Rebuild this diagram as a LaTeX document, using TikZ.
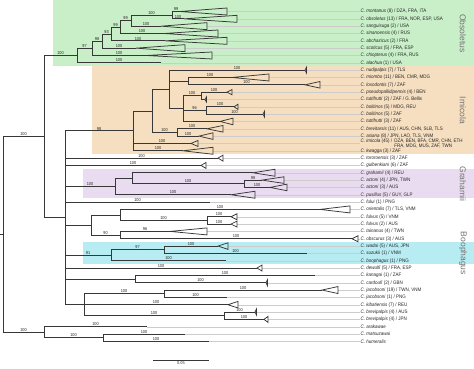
\documentclass[tikz,border=0pt]{standalone}
\usepackage{fontspec}
\usepackage{tikz}
\usetikzlibrary{positioning}
\newfontfamily\tipfont[FakeStretch=0.9]{Liberation Sans}
\newfontfamily\cladefont{Liberation Sans}
\definecolor{obsgreen}{RGB}{200,239,200}
\definecolor{imitan}{RGB}{246,223,192}
\definecolor{grapurple}{RGB}{234,220,240}
\definecolor{boocyan}{RGB}{184,236,243}
\definecolor{brcol}{RGB}{55,55,55}
\newcommand{\tipwedge}[3]{\draw[br] (#1) -- ([yshift=#3]#2) -- ([yshift=-#3]#2) -- cycle;}

\begin{document}
\begin{tikzpicture}[
 x=1pt, y=-7.33pt,
 br/.style={draw=brcol, line width=0.75pt},
 guide/.style={draw=black!20, line width=0.35pt},
 band/.style={fill=#1},
 tip/.style={anchor=west, inner sep=0.5pt, text=black!85,
   font=\tipfont\fontsize{5}{6}\selectfont},
 bs/.style={anchor=south, inner sep=0.4pt, text=black!85,
   font=\tipfont\fontsize{4.3}{5}\selectfont},
 clade/.style={rotate=-90, text=black!55,
   font=\cladefont\fontsize{8.5}{10}\selectfont}
]
\useasboundingbox (0,-0.57) rectangle (474,49.77);

% Clade bands
\path[band=obsgreen] (53,-0.57) rectangle (474,8.5);
\path[band=imitan] (92,8.5) rectangle (474,20.5);
\path[band=grapurple] (83,22.5) rectangle (474,26.5);
\path[band=boocyan] (83,32.5) rectangle (474,35.5);

\node[clade] (cobs) at (463,3.97) {Obsoletus};
\node[clade] (cimi) at (463,14.5) {Imicola};
\node[clade] (cgra) at (463,24.5) {Grahamii};
\node[clade] (cboo) at (463,34) {Boophagus};

% Internal nodes
\coordinate (base) at (0,31.41);
\coordinate (root) at (3,31.41);
\coordinate (ing) at (44,18.07);
\coordinate (out) at (44,44.75);
\coordinate (out2) at (103,45.5);
\coordinate (obs0) at (77,7.01);
\coordinate (obs1) at (92,6.02);
\coordinate (obs2) at (102,5.03);
\coordinate (obs3) at (111,4.06);
\coordinate (obs4) at (120,3.13);
\coordinate (obs5) at (131,2.25);
\coordinate (obs6) at (172,1.5);
\coordinate (big) at (65,29.14);
\coordinate (imi0) at (133,17.28);
\coordinate (imi1) at (152,14.56);
\coordinate (imi2) at (169,11.63);
\coordinate (imi3) at (188,10.5);
\coordinate (imi4) at (183,14.25);
\coordinate (imi5) at (201,12.5);
\coordinate (imi6) at (206,14.5);
\coordinate (imi7) at (177,17.5);
\coordinate (gra0) at (115,24.88);
\coordinate (gra1) at (132,23.75);
\coordinate (gra2) at (244,24.5);
\coordinate (ful0) at (91,30.13);
\coordinate (ful1) at (120,28.75);
\coordinate (ful2) at (207,29.5);
\coordinate (ful3) at (120,31.5);
\coordinate (boo0) at (111,34.25);
\coordinate (boo1) at (164,33.5);
\coordinate (kan0) at (135,37.5);
\coordinate (jac0) at (84,41);
\coordinate (jac1) at (164,39.5);
\coordinate (jac2) at (224,42.5);

% Branch ends: apex (a) and base (b) of collapsed clades
\coordinate (a1) at (180,1);  \coordinate (b1) at (227,1);
\coordinate (a2) at (184,2);  \coordinate (b2) at (237,2);
\coordinate (a3) at (161,3);  \coordinate (b3) at (207,3);
\coordinate (a4) at (164,4);  \coordinate (b4) at (218,4);
\coordinate (a5) at (165,5);  \coordinate (b5) at (227,5);
\coordinate (a6) at (136,6);  \coordinate (b6) at (185,6);
\coordinate (a7) at (146,7);  \coordinate (b7) at (212,7);
\coordinate (b8) at (161,8);
\coordinate (a9) at (305,9);  \coordinate (b9) at (306.5,9);
\coordinate (a10) at (232,10); \coordinate (b10) at (269,10);
\coordinate (a11) at (305,11); \coordinate (b11) at (320,11);
\coordinate (a12) at (227,12); \coordinate (b12) at (232,12);
\coordinate (a13) at (205,13); \coordinate (b13) at (206.5,13);
\coordinate (a14) at (234,14); \coordinate (b14) at (238,14);
\coordinate (a15) at (263,15); \coordinate (b15) at (264.5,15);
\coordinate (a16) at (220,16); \coordinate (b16) at (233,16);
\coordinate (a17) at (207,17); \coordinate (b17) at (223,17);
\coordinate (a18) at (199,18); \coordinate (b18) at (213,18);
\coordinate (a19) at (191,19); \coordinate (b19) at (198,19);
\coordinate (a20) at (183,20); \coordinate (b20) at (213,20);
\coordinate (a21) at (218,21); \coordinate (b21) at (223,21);
\coordinate (a22) at (201,22); \coordinate (b22) at (206,22);
\coordinate (a23) at (253,23); \coordinate (b23) at (275,23);
\coordinate (a24) at (262,24); \coordinate (b24) at (284,24);
\coordinate (a25) at (270,25); \coordinate (b25) at (287,25);
\coordinate (a26) at (231,26); \coordinate (b26) at (255,26);
\coordinate (b27) at (210,27);
\coordinate (a28) at (320,28); \coordinate (b28) at (350,28);
\coordinate (a29) at (231,29); \coordinate (b29) at (237,29);
\coordinate (a30) at (231,30); \coordinate (b30) at (237,30);
\coordinate (a31) at (170,31); \coordinate (b31) at (207,31);
\coordinate (a32) at (352,32); \coordinate (b32) at (358,32);
\coordinate (a33) at (218,33); \coordinate (b33) at (228,33);
\coordinate (b34) at (307,34);
\coordinate (b35) at (226,35);
\coordinate (a36) at (257,36); \coordinate (b36) at (262,36);
\coordinate (b37) at (315,37);
\coordinate (a38) at (266,38); \coordinate (b38) at (267.5,38);
\coordinate (a39) at (322,39); \coordinate (b39) at (338,39);
\coordinate (b40) at (227,40);
\coordinate (a41) at (228,41); \coordinate (b41) at (238,41);
\coordinate (a42) at (255,42); \coordinate (b42) at (256.5,42);
\coordinate (a43) at (264,43); \coordinate (b43) at (268,43);
\coordinate (b44) at (147,44);
\coordinate (b45) at (185,45);
\coordinate (b46) at (209,46);

% Tip labels
\node[tip] (l1) at (360,1) {\textit{C. montanus} (8) / DZA, FRA, ITA};
\node[tip] (l2) at (360,2) {\textit{C. obsoletus} (13) / FRA, NOR, ESP, USA};
\node[tip] (l3) at (360,3) {\textit{C. sanguisuga} (2) / USA};
\node[tip] (l4) at (360,4) {\textit{C. sinanoensis} (4) / RUS};
\node[tip] (l5) at (360,5) {\textit{C. abchazicus} (2) / FRA};
\node[tip] (l6) at (360,6) {\textit{C. scoticus} (5) / FRA, ESP};
\node[tip] (l7) at (360,7) {\textit{C. chiopterus} (4) / FRA, RUS};
\node[tip] (l8) at (360,8) {\textit{C. alachua} (1) / USA};
\node[tip] (l9) at (360,9) {\textit{C. nudipalpis} (7) / TLS};
\node[tip] (l10) at (360,10) {\textit{C. miombo} (11) / BEN, CMR, MDG};
\node[tip] (l11) at (360,11) {\textit{C. loxodontis} (7) / ZAF};
\node[tip] (l12) at (360,12) {\textit{C. pseudopallidipennis} (4) / BEN};
\node[tip] (l13) at (360,13) {\textit{C. tuttifrutti} (2) / ZAF / G. Bellis};
\node[tip] (l14) at (360,14) {\textit{C. bolitinos} (5) / MDG, REU};
\node[tip] (l15) at (360,15) {\textit{C. bolitinos} (5) / ZAF};
\node[tip] (l16) at (360,16) {\textit{C. tuttifrutti} (3) / ZAF};
\node[tip] (l17) at (360,17) {\textit{C. brevitarsis} (11) / AUS, CHN, SLB, TLS};
\node[tip] (l18) at (360,18) {\textit{C. asiana} (8) / JPN, LAO, TLS, VNM};
\node[tip] (l19) at (360,18.72) {\textit{C. imicola} (45) /};
\node[tip, right=0.8pt of l19] (l19b) {DZA, BEN, BFA, CMR, CHN, ETH};
\coordinate (r19) at (0,19.35);
\node[tip] (l19c) at (l19b.west |- r19) {FRA, MDG, MUS, ZAF, TWN};
\node[tip] (l20) at (360,20) {\textit{C. kwagga} (3) / ZAF};
\node[tip] (l21) at (360,21) {\textit{C. tororoensis} (3) / ZAF};
\node[tip] (l22) at (360,22) {\textit{C. gulbenkiani} (6) / ZAF};
\node[tip] (l23) at (360,23) {\textit{C. grahamii} (4) / REU};
\node[tip] (l24) at (360,24) {\textit{C. actoni} (4) / JPN, TWN};
\node[tip] (l25) at (360,25) {\textit{C. actoni} (3) / AUS};
\node[tip] (l26) at (360,26) {\textit{C. pusillus} (5) / GUY, GLP};
\node[tip] (l27) at (360,27) {\textit{C. fului} (1) / PNG};
\node[tip] (l28) at (360,28) {\textit{C. orientalis} (7) / TLS, VNM};
\node[tip] (l29) at (360,29) {\textit{C. fulvus} (5) / VNM};
\node[tip] (l30) at (360,30) {\textit{C. fulvus} (2) / AUS};
\node[tip] (l31) at (360,31) {\textit{C. tainanus} (4) / TWN};
\node[tip] (l32) at (360,32) {\textit{C. obscurus} (3) / AUS};
\node[tip] (l33) at (360,33) {\textit{C. wadai} (5) / AUS, JPN};
\node[tip] (l34) at (360,34) {\textit{C. suzukii} (1) / VNM};
\node[tip] (l35) at (360,35) {\textit{C. boophagus} (1) / PNG};
\node[tip] (l36) at (360,36) {\textit{C. dewulfi} (5) / FRA, ESP};
\node[tip] (l37) at (360,37) {\textit{C. kanagai} (1) / ZAF};
\node[tip] (l38) at (360,38) {\textit{C. cardoufi} (2) / GBN};
\node[tip] (l39) at (360,39) {\textit{C. jacobsoni} (19) / TWN, VNM};
\node[tip] (l40) at (360,40) {\textit{C. jacobsoni} (1) / PNG};
\node[tip] (l41) at (360,41) {\textit{C. kibatiensis} (7) / REU};
\node[tip] (l42) at (360,42) {\textit{C. brevipalpis} (4) / AUS};
\node[tip] (l43) at (360,43) {\textit{C. brevipalpis} (4) / JPN};
\node[tip] (l44) at (360,44) {\textit{C. arakawae}};
\node[tip] (l45) at (360,45) {\textit{C. matsuzawai}};
\node[tip] (l46) at (360,46) {\textit{C. humeralis}};

% Guide lines to the labels
\draw[guide] (b1) -- (b1 -| l1.west) (b2) -- (b2 -| l2.west)
 (b3) -- (b3 -| l3.west) (b4) -- (b4 -| l4.west) (b5) -- (b5 -| l5.west)
 (b6) -- (b6 -| l6.west) (b7) -- (b7 -| l7.west) (b8) -- (b8 -| l8.west)
 (b9) -- (b9 -| l9.west) (b10) -- (b10 -| l10.west) (b11) -- (b11 -| l11.west)
 (b12) -- (b12 -| l12.west) (b13) -- (b13 -| l13.west) (b14) -- (b14 -| l14.west)
 (b15) -- (b15 -| l15.west) (b16) -- (b16 -| l16.west) (b17) -- (b17 -| l17.west)
 (b18) -- (b18 -| l18.west) (b19) -- (b19 -| l19.west) (b20) -- (b20 -| l20.west)
 (b21) -- (b21 -| l21.west) (b22) -- (b22 -| l22.west) (b23) -- (b23 -| l23.west)
 (b24) -- (b24 -| l24.west) (b25) -- (b25 -| l25.west) (b26) -- (b26 -| l26.west)
 (b27) -- (b27 -| l27.west) (b28) -- (b28 -| l28.west) (b29) -- (b29 -| l29.west)
 (b30) -- (b30 -| l30.west) (b31) -- (b31 -| l31.west) (b32) -- (b32 -| l32.west)
 (b33) -- (b33 -| l33.west) (b34) -- (b34 -| l34.west) (b35) -- (b35 -| l35.west)
 (b36) -- (b36 -| l36.west) (b37) -- (b37 -| l37.west) (b38) -- (b38 -| l38.west)
 (b39) -- (b39 -| l39.west) (b40) -- (b40 -| l40.west) (b41) -- (b41 -| l41.west)
 (b42) -- (b42 -| l42.west) (b43) -- (b43 -| l43.west) (b44) -- (b44 -| l44.west)
 (b45) -- (b45 -| l45.west) (b46) -- (b46 -| l46.west);

% Backbone
\draw[br] (base) -- (root);
\draw[br] (root) |- (ing) node[bs,pos=.75] {100};
\draw[br] (root) |- (out) node[bs,pos=.75] {100};
\draw[br] (ing) |- (obs0) node[bs,pos=.75] {100};
\draw[br] (ing) |- (big);

% Obsoletus
\draw[br] (obs0) |- (obs1) node[bs,pos=.75] {97};
\draw[br] (obs1) |- (obs2) node[bs,pos=.75] {98};
\draw[br] (obs2) |- (obs3) node[bs,pos=.75] {93};
\draw[br] (obs3) |- (obs4) node[bs,pos=.75] {99};
\draw[br] (obs4) |- (obs5) node[bs,pos=.75] {99};
\draw[br] (obs5) |- (obs6) node[bs,pos=.75] {100};
\draw[br] (obs6) |- (a1) node[bs,pos=.75] {99};
\draw[br] (obs6) |- (a2) node[bs,pos=.75] {100};
\draw[br] (obs5) |- (a3) node[bs,pos=.75] {100};
\draw[br] (obs4) |- (a4) node[bs,pos=.75] {100};
\draw[br] (obs3) |- (a5) node[bs,pos=.75] {100};
\draw[br] (obs2) |- (a6) node[bs,pos=.75] {100};
\draw[br] (obs1) |- (a7) node[bs,pos=.75] {100};
\draw[br] (obs0) |- (b8) node[bs,pos=.75] {100};

% Imicola
\draw[br] (big) |- (imi0) node[bs,pos=.75] {98};
\draw[br] (imi0) |- (imi1);
\draw[br] (imi0) |- (a19) node[bs,pos=.75] {100};
\draw[br] (imi0) |- (a20) node[bs,pos=.75] {100};
\draw[br] (imi1) |- (imi2);
\draw[br] (imi1) |- (imi7) node[bs,pos=.75] {100};
\draw[br] (imi2) |- (a9) node[bs,pos=.75] {100};
\draw[br] (imi2) |- (imi3);
\draw[br] (imi2) |- (imi4);
\draw[br] (imi3) |- (a10) node[bs,pos=.75] {100};
\draw[br] (imi3) |- (a11) node[bs,pos=.75] {100};
\draw[br] (imi4) |- (imi5) node[bs,pos=.75] {100};
\draw[br] (imi4) |- (imi6) node[bs,pos=.75] {96};
\draw[br] (imi4) |- (a16);
\draw[br] (imi5) |- (a12) node[bs,pos=.75] {100};
\draw[br] (imi5) |- (a13);
\draw[br] (imi6) |- (a14) node[bs,pos=.75] {100};
\draw[br] (imi6) |- (a15) node[bs,pos=.75] {100};
\draw[br] (imi7) |- (a17) node[bs,pos=.75] {100};
\draw[br] (imi7) |- (a18) node[bs,pos=.75] {100};

% Singletons and Grahamii
\draw[br] (big) |- (a21) node[bs,pos=.75] {100};
\draw[br] (big) |- (a22) node[bs,pos=.75] {100};
\draw[br] (big) |- (gra0) node[bs,pos=.75] {100};
\draw[br] (gra0) |- (gra1);
\draw[br] (gra0) |- (a26) node[bs,pos=.75] {100};
\draw[br] (gra1) |- (a23);
\draw[br] (gra1) |- (gra2) node[bs,pos=.75] {100};
\draw[br] (gra2) |- (a24) node[bs,pos=.75] {98};
\draw[br] (gra2) |- (a25) node[bs,pos=.75] {100};
\draw[br] (big) |- (b27) node[bs,pos=.75] {100};

% Fulvus group
\draw[br] (big) |- (ful0);
\draw[br] (ful0) |- (ful1);
\draw[br] (ful0) |- (ful3) node[bs,pos=.75] {90};
\draw[br] (ful1) |- (a28) node[bs,pos=.75] {100};
\draw[br] (ful1) |- (ful2) node[bs,pos=.75] {100};
\draw[br] (ful2) |- (a29) node[bs,pos=.75] {100};
\draw[br] (ful2) |- (a30) node[bs,pos=.75] {100};
\draw[br] (ful3) |- (a31) node[bs,pos=.75] {96};
\draw[br] (ful3) |- (a32) node[bs,pos=.75] {100};

% Boophagus
\draw[br] (big) |- (boo0) node[bs,pos=.75] {91};
\draw[br] (boo0) |- (boo1) node[bs,pos=.75] {97};
\draw[br] (boo0) |- (b35) node[bs,pos=.75] {100};
\draw[br] (boo1) |- (a33) node[bs,pos=.75] {100};
\draw[br] (boo1) |- (b34) node[bs,pos=.75] {100};

% Remaining clades
\draw[br] (big) |- (a36) node[bs,pos=.75] {100};
\draw[br] (big) |- (kan0);
\draw[br] (kan0) |- (b37) node[bs,pos=.75] {100};
\draw[br] (kan0) |- (a38) node[bs,pos=.75] {100};
\draw[br] (big) |- (jac0);
\draw[br] (jac0) |- (jac1) node[bs,pos=.75] {100};
\draw[br] (jac0) |- (a41) node[bs,pos=.75] {100};
\draw[br] (jac0) |- (jac2) node[bs,pos=.75] {100};
\draw[br] (jac1) |- (a39) node[bs,pos=.75] {100};
\draw[br] (jac1) |- (b40) node[bs,pos=.75] {100};
\draw[br] (jac2) |- (a42) node[bs,pos=.75] {100};
\draw[br] (jac2) |- (a43) node[bs,pos=.75] {100};

% Outgroup
\draw[br] (out) |- (b44) node[bs,pos=.75] {100};
\draw[br] (out) |- (out2) node[bs,pos=.75] {100};
\draw[br] (out2) |- (b45) node[bs,pos=.75] {100};
\draw[br] (out2) |- (b46) node[bs,pos=.75] {100};

% Collapsed clades
\tipwedge{a1}{b1}{3.5pt} \tipwedge{a2}{b2}{3.5pt} \tipwedge{a3}{b3}{3.5pt}
\tipwedge{a4}{b4}{3.5pt} \tipwedge{a5}{b5}{3.5pt} \tipwedge{a6}{b6}{3.5pt}
\tipwedge{a7}{b7}{3.5pt} \tipwedge{a9}{b9}{3pt} \tipwedge{a10}{b10}{3.5pt}
\tipwedge{a11}{b11}{3.3pt} \tipwedge{a12}{b12}{2.6pt} \tipwedge{a13}{b13}{2.6pt}
\tipwedge{a14}{b14}{2.6pt} \tipwedge{a15}{b15}{3pt} \tipwedge{a16}{b16}{3.3pt}
\tipwedge{a17}{b17}{3.3pt} \tipwedge{a18}{b18}{3.3pt} \tipwedge{a19}{b19}{3pt}
\tipwedge{a20}{b20}{3.5pt} \tipwedge{a21}{b21}{3pt} \tipwedge{a22}{b22}{3pt}
\tipwedge{a23}{b23}{3.5pt} \tipwedge{a24}{b24}{3.3pt} \tipwedge{a25}{b25}{3.3pt}
\tipwedge{a26}{b26}{3.5pt} \tipwedge{a28}{b28}{3.5pt} \tipwedge{a29}{b29}{3pt}
\tipwedge{a30}{b30}{3pt} \tipwedge{a31}{b31}{3.5pt} \tipwedge{a32}{b32}{3pt}
\tipwedge{a33}{b33}{3.3pt} \tipwedge{a36}{b36}{3pt} \tipwedge{a38}{b38}{3pt}
\tipwedge{a39}{b39}{3.5pt} \tipwedge{a41}{b41}{3.3pt} \tipwedge{a42}{b42}{3pt}
\tipwedge{a43}{b43}{3pt}

% Scale bar
\coordinate (sb0) at (153,48.64);
\coordinate (sb1) at (209,48.64);
\draw[br] (sb0) -- (sb1) node[midway, below=0.5pt, inner sep=0.4pt, text=black!80,
  font=\tipfont\fontsize{4.3}{5}\selectfont] (sbl) {0.05};
\end{tikzpicture}
\end{document}
